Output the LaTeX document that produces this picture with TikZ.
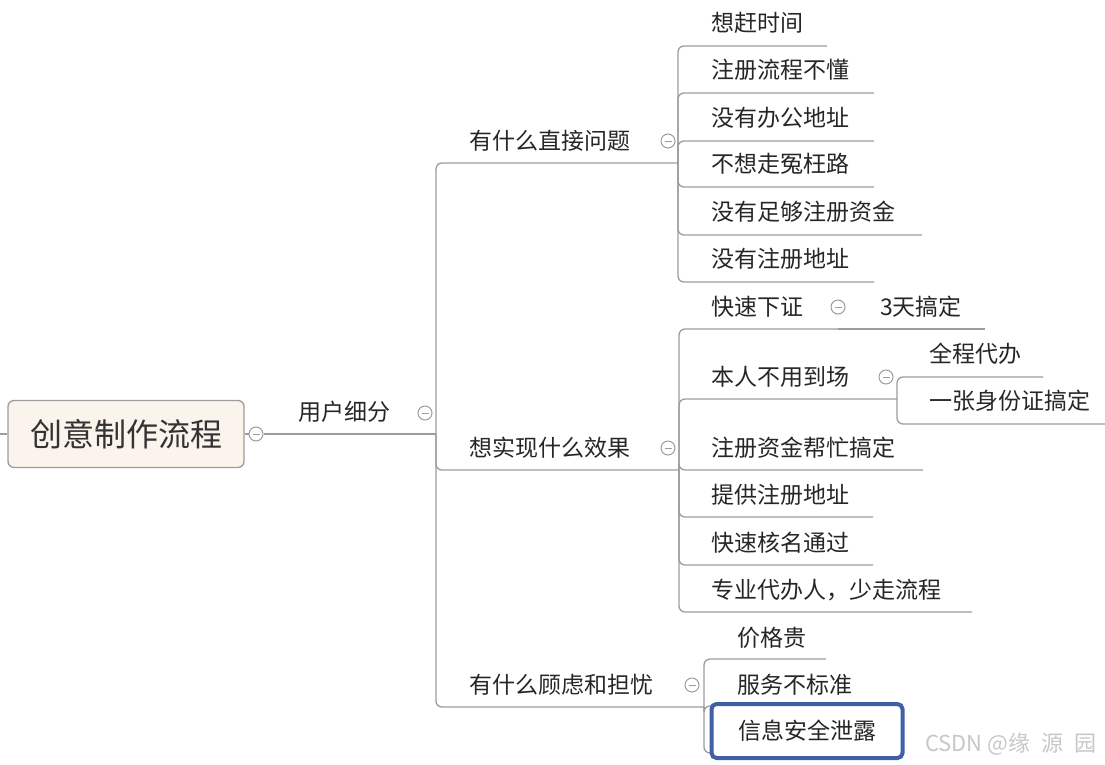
\documentclass[tikz,border=0pt]{standalone}
\usepackage{fontspec}
\setmainfont{Noto Sans CJK SC}
\definecolor{cmgray}{HTML}{9C9C9C}
\definecolor{cmfill}{HTML}{FBF4EC}
\definecolor{cmblue}{HTML}{3F5FA6}
\tikzset{cmtxt/.style={anchor=west,inner sep=0pt,text height=17pt,text depth=0pt,
           font=\fontsize{23}{23}\selectfont,text=black!85},
         cmroot/.style={draw=cmgray,fill=cmfill,rounded corners=6pt,line width=1.3pt,
           minimum width=236,minimum height=67,inner sep=0pt,
           font=\fontsize{32}{32}\selectfont,text=black!80},
         cmfold/.style={circle,draw=cmgray,line width=1pt,minimum size=14,inner sep=0pt,
           path picture={\draw[cmgray,line width=1pt] ([xshift=-3.5pt]path picture bounding box.center)
             -- ([xshift=3.5pt]path picture bounding box.center);}},
         cmline/.style={draw=cmgray,line width=1.3pt,rounded corners=6pt},
         cmsel/.style={draw=cmblue,fill=white,line width=4pt,rounded corners=5pt,
           minimum width=191,minimum height=54,inner sep=0pt,
           font=\fontsize{23}{23}\selectfont,text=black!85}}

\begin{document}
\begin{tikzpicture}[x=1pt,y=-1pt]
    \useasboundingbox (0,0) rectangle (1105,764);
    % root
    \coordinate (stub) at (0,434);
    \node[cmroot] (root) at (126,434) {创意制作流程};
    \node[cmfold] (rootf) at (256,434) {};
    \node[cmtxt] (user) at (298,412) {用户细分};
    \node[cmfold] (userf) at (425,413) {};
    \coordinate (trunk) at (436,434);
    \draw[cmline] (stub) -- (root); \draw[cmline] (root) -- (rootf); \draw[cmline] (rootf) -- (trunk);
    % second level
    \foreach \n/\t/\y/\f/\j in {q1/有什么直接问题/141/668/678,q2/想实现什么效果/448/668/679,q3/有什么顾虑和担忧/685/692/704}
      {\node[cmtxt] (\n) at (469,\y) {\t}; \node[cmfold] (\n f) at (\f,\y) {};
       \coordinate (\n j) at (\j,\y+22); \draw[cmline] (trunk) |- (\n j);}
    % direct problems
    \foreach \t/\y/\e [count=\i] in {想赶时间/23/827,注册流程不懂/70/874,没有办公地址/118/874,
        不想走冤枉路/164/874,没有足够注册资金/212/922,没有注册地址/259/874}
      {\node[cmtxt] (a\i) at (711,\y) {\t}; \coordinate (a\i e) at (\e,\y+23); \draw[cmline] (q1j) |- (a\i e);}
    % wanted effects
    \foreach \t/\y/\e [count=\i] in {快速下证/307/838,本人不用到场/377/897,注册资金帮忙搞定/448/923,
        提供注册地址/495/873,快速核名通过/543/873,专业代办人，少走流程/590/972}
      {\node[cmtxt] (b\i) at (711,\y) {\t}; \coordinate (b\i e) at (\e,\y+22); \draw[cmline] (q2j) |- (b\i e);}
    \node[cmfold] (b1f) at (838,307) {};
    \node[cmtxt] (b1a) at (880,307) {3天搞定}; \coordinate (b1ae) at (985,329);
    \draw[cmline] (b1e) -- (b1ae);
    \node[cmfold] (b2f) at (886,377) {};
    \foreach \t/\y/\e [count=\i] in {全程代办/354/1043,一张身份证搞定/401/1105}
      {\node[cmtxt] (b2\i) at (929,\y) {\t}; \coordinate (b2\i e) at (\e,\y+23); \draw[cmline] (b2e) |- (b2\i e);}
    % worries
    \foreach \t/\y/\e [count=\i] in {价格贵/638/826,服务不标准/685/870}
      {\node[cmtxt] (c\i) at (737,\y) {\t}; \coordinate (c\i e) at (\e,\y+21); \draw[cmline] (q3j) |- (c\i e);}
    \coordinate (c3e) at (880,753); \draw[cmline] (q3j) |- (c3e);
    \node[cmsel] (c3) at (807,731) {信息安全泄露};
    % watermark
    \node[anchor=west,inner sep=0pt,text=black!22,font=\fontsize{22}{22}\selectfont] (mark) at (925,744) {CSDN @缘\enspace 源\enspace 园};
  \end{tikzpicture}
\end{document}
